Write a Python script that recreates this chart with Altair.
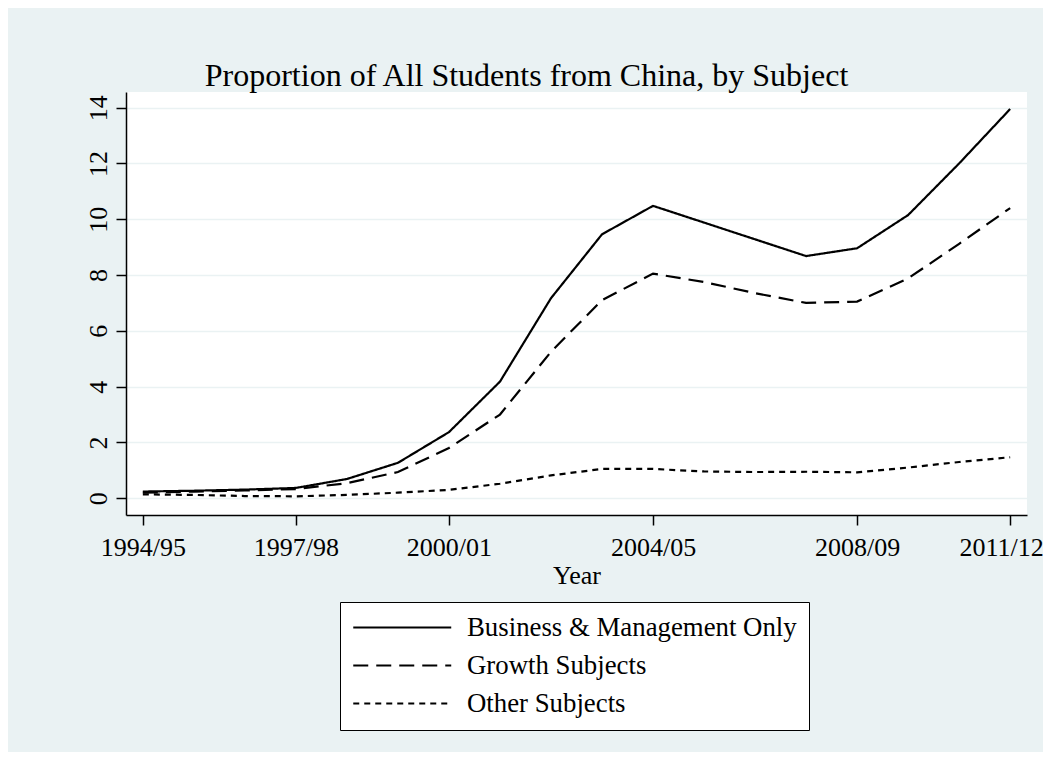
import altair as alt
import pandas as pd

years = list(range(1994, 2012))
business = [0.24, 0.27, 0.31, 0.37, 0.69, 1.27, 2.37, 4.18, 7.17, 9.46, 10.48, 9.88, 9.28, 8.68, 8.96, 10.15, 12.0, 13.95]
growth = [0.20, 0.24, 0.28, 0.33, 0.54, 0.94, 1.80, 3.00, 5.25, 7.10, 8.05, 7.75, 7.35, 7.00, 7.05, 7.88, 9.12, 10.40]
other = [0.14, 0.12, 0.08, 0.07, 0.12, 0.20, 0.30, 0.52, 0.82, 1.05, 1.05, 0.96, 0.94, 0.95, 0.93, 1.10, 1.30, 1.47]

series_names = ["Business & Management Only", "Growth Subjects", "Other Subjects"]
x_tick_values = [1994, 1997, 2000, 2004, 2008, 2011]
x_tick_labels = ["1994/95", "1997/98", "2000/01", "2004/05", "2008/09", "2011/12"]
y_tick_values = [0, 2, 4, 6, 8, 10, 12, 14]

rows = []
for name, vals in zip(series_names, [business, growth, other]):
    for yr, v in zip(years, vals):
        rows.append({"year": yr, "value": v, "series": name})
df = pd.DataFrame(rows)

label_expr = ""
for v, l in zip(x_tick_values, x_tick_labels):
    label_expr += f"datum.value == {v} ? '{l}' : "
label_expr += "''"

FONT = "Liberation Serif"
BG = "#EAF2F3"

chart = alt.Chart(df).mark_line(strokeWidth=2.2, color="black").encode(
    x=alt.X("year:Q",
            scale=alt.Scale(domain=[1993.67, 2011.33], nice=False, zero=False),
            axis=alt.Axis(values=x_tick_values, labelExpr=label_expr, title="Year",
                          grid=False, tickSize=10, labelPadding=9, labelFlush=False,
                          labelOverlap=False, labelBound=False,
                          labelOffset={"condition": {"test": f"datum.value == {x_tick_values[-1]}", "value": -9}, "value": 0},
                          titleBaseline="alphabetic", titleY=68)),
    y=alt.Y("value:Q",
            scale=alt.Scale(domain=[-0.6, 14.56], nice=False, zero=False),
            axis=alt.Axis(values=y_tick_values, title=None, grid=True,
                          tickSize=10, labelAngle=270, labelAlign="center",
                          labelBaseline="bottom", labelPadding=5, labelFlush=False)),
    strokeDash=alt.StrokeDash("series:N",
                              scale=alt.Scale(domain=series_names,
                                              range=[[1, 0], [15, 8], [6, 5]]),
                              sort=series_names,
                              legend=alt.Legend(title=None, orient="none",
                                                legendX=214, legendY=510,
                                                symbolType="M-1,0H7", symbolSize=600,
                                                symbolStrokeWidth=2, symbolStrokeColor="black",
                                                labelOffset=88, labelFontSize=26.8, labelFont=FONT,
                                                labelColor="black", labelLimit=0,
                                                strokeColor="black", fillColor="white",
                                                padding=12, rowPadding=10)),
).properties(
    width=901,
    height=423,
    title=alt.TitleParams("Proportion of All Students from China, by Subject",
                          fontSize=32, font=FONT, fontWeight="normal", color="black",
                          anchor="middle", dx=-50, dy=33, baseline="alphabetic", offset=7),
    padding={"left": 118, "top": 84, "right": 16, "bottom": 237},
    autosize=alt.AutoSizeParams(type="none"),
).configure(
    background=BG,
).configure_view(
    fill="white", stroke=None,
).configure_axis(
    labelFont=FONT, labelFontSize=26, labelColor="black",
    titleFont=FONT, titleFontSize=26, titleColor="black", titleFontWeight="normal",
    domainColor="black", domainWidth=1.5, tickColor="black", tickWidth=1.5,
    gridColor=BG, gridWidth=1.5,
)

chart.save("out.html", embed_options={"renderer": "svg", "actions": False})
